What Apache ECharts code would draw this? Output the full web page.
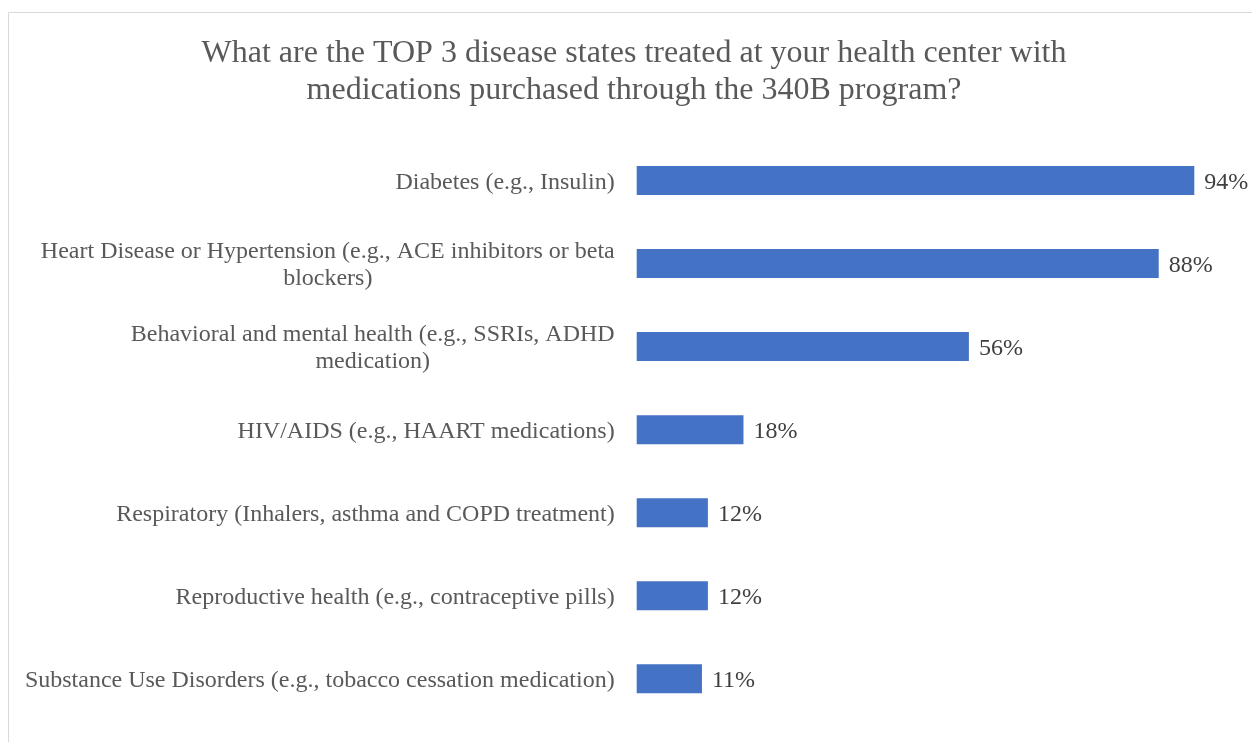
<!DOCTYPE html>
<html>
<head>
<meta charset="utf-8">
<style>
  html, body { margin: 0; padding: 0; background: #ffffff; }
  #chart { width: 1252px; height: 742px; }
</style>
<script src="https://cdn.jsdelivr.net/npm/echarts@6/dist/echarts.min.js"></script>
</head>
<body>
<div id="chart"></div>
<script>
// Survey responses: share of health centers naming each disease state in their top 3
const categories = [
  'Diabetes (e.g., Insulin)',
  'Heart Disease or Hypertension (e.g., ACE inhibitors or beta\nblockers)',
  'Behavioral and mental health (e.g., SSRIs, ADHD\nmedication)',
  'HIV/AIDS (e.g., HAART medications)',
  'Respiratory (Inhalers, asthma and COPD treatment)',
  'Reproductive health (e.g., contraceptive pills)',
  'Substance Use Disorders (e.g., tobacco cessation medication)'
];
const percentages = [94, 88, 56, 18, 12, 12, 11];
const titleText = 'What are the TOP 3 disease states treated at your health center with\nmedications purchased through the 340B program?';

const serif = '"Liberation Serif", "Times New Roman", serif';

const chart = echarts.init(document.getElementById('chart'), null, { renderer: 'canvas' });

chart.setOption({
  backgroundColor: '#ffffff',
  animation: false,
  graphic: [{
    type: 'rect',
    silent: true,
    shape: { x: 8.5, y: 12.5, width: 1400, height: 900 },
    style: { fill: 'none', stroke: '#d9d9d9', lineWidth: 1 }
  }],
  title: {
    text: titleText,
    left: 629,
    textAlign: 'center',
    top: 30,
    textStyle: {
      fontFamily: serif,
      fontSize: 32,
      fontWeight: 'normal',
      color: '#595959',
      lineHeight: 37
    }
  },
  grid: {
    left: 636.7,
    right: 22.1,
    top: 139,
    bottom: 21.7,
    containLabel: false
  },
  xAxis: {
    type: 'value',
    min: 0,
    max: 100,
    show: false
  },
  yAxis: {
    type: 'category',
    data: categories,
    inverse: true,
    axisLine: { show: false },
    axisTick: { show: false },
    splitLine: { show: false },
    axisLabel: {
      margin: 22,
      align: 'right',
      fontFamily: serif,
      fontSize: 24,
      color: '#595959',
      lineHeight: 27,
      padding: [4, 0, 0, 0],
      formatter: function (value) {
        // each line centred within the right-aligned label block
        return value.split('\n').map(function (line) { return '{c|' + line + '}'; }).join('\n');
      },
      rich: {
        c: {
          align: 'center',
          fontFamily: serif,
          fontSize: 24,
          color: '#595959',
          lineHeight: 27
        }
      }
    }
  },
  series: [{
    type: 'bar',
    data: percentages,
    barWidth: 29,
    itemStyle: { color: '#4472C4' },
    label: {
      show: true,
      position: 'right',
      distance: 10,
      offset: [0, 2],
      formatter: '{c}%',
      fontFamily: serif,
      fontSize: 24,
      color: '#404040'
    }
  }]
});
</script>
</body>
</html>
